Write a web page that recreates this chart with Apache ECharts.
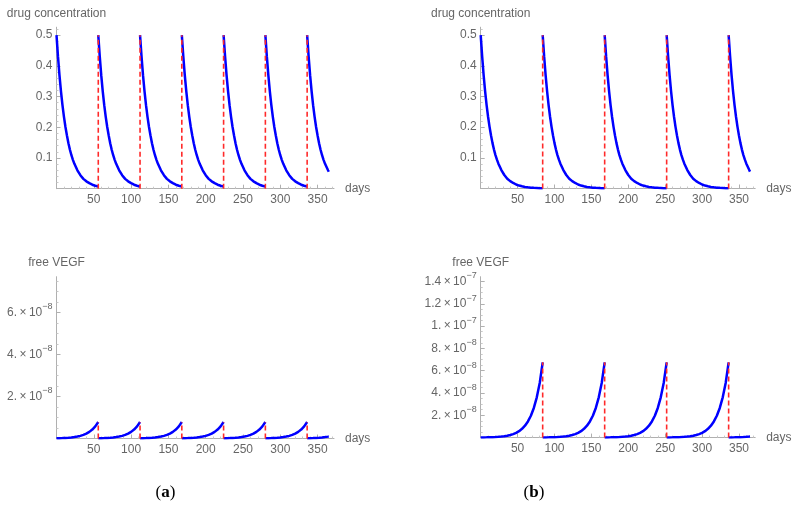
<!DOCTYPE html>
<html><head><meta charset="utf-8">
<script src="https://cdn.jsdelivr.net/npm/echarts@6/dist/echarts.min.js"></script>
<style>html,body{margin:0;padding:0;background:#fff}#c{width:794px;height:510px}</style>
</head><body><div id="c"></div>
<script>
// ---- data ----
// one dosing cycle: days after an injection
const profileDays = [0,2,4,6,8,10,12,14,16,18,20,22,24,28,32,36,40,44,48,52,56,60,64,68,72,76,80,84];
// drug concentration after an injection
const drugProfile = [0.5,0.430,0.369,0.317,0.272,0.234,0.201,0.173,0.148,0.127,0.109,0.094,0.081,0.060,0.044,0.032,0.024,0.018,0.013,0.0096,0.0071,0.0052,0.0039,0.0028,0.0021,0.0016,0.0011,0.0008];
// free VEGF after an injection
const vegfProfile = [1.10e-10,1.28e-10,1.50e-10,1.74e-10,2.03e-10,2.36e-10,2.75e-10,3.20e-10,3.73e-10,4.34e-10,5.05e-10,5.88e-10,6.85e-10,9.3e-10,1.26e-9,1.71e-9,2.32e-9,3.15e-9,4.27e-9,5.79e-9,7.86e-9,1.07e-8,1.45e-8,1.96e-8,2.66e-8,3.61e-8,4.90e-8,6.75e-8];
// injection days
const dosesA = [0,56,112,168,224,280,336];
const dosesB = [0,84,168,252,336];
const endDay = 365;
const endDrug = 0.055;
const endVegf = 1.0e-9;
// tick labels
const xTicks = [50,100,150,200,250,300,350];
const drugTicks = [0.1,0.2,0.3,0.4,0.5];
const drugTickLabels = ['0.1','0.2','0.3','0.4','0.5'];
const vegfTicksA = [2e-8,4e-8,6e-8];
const vegfMantA = ['2.','4.','6.'];
const vegfExpA = ['\u22128','\u22128','\u22128'];
const vegfTicksB = [2e-8,4e-8,6e-8,8e-8,1e-7,1.2e-7,1.4e-7];
const vegfMantB = ['2.','4.','6.','8.','1.','1.2','1.4'];
const vegfExpB = ['\u22128','\u22128','\u22128','\u22128','\u22127','\u22127','\u22127'];

// ---- chart ----
const fam = 'Liberation Sans, Arial, sans-serif';
const axisCol = '#b0b0b0';
const txtCol = '#666';

function cycles(doses, profile, endVal){
  const out = [];
  doses.forEach((d,i)=>{
    const next = i < doses.length-1 ? doses[i+1] : endDay;
    const pts = [];
    profileDays.forEach((t,j)=>{ if (t <= next - d) pts.push([d+t, profile[j]]); });
    if (pts[pts.length-1][0] < next) pts.push([next, endVal]);
    out.push(pts);
  });
  return out;
}
function jumps(doses, profile, top){
  const out = [];
  for (let i=1;i<doses.length;i++){
    const gap = doses[i]-doses[i-1];
    const j = profileDays.indexOf(gap);
    out.push(top ? [[doses[i], 0],[doses[i], profile[0]]] : [[doses[i], 0],[doses[i], profile[j]]]);
  }
  return out;
}

function mkX(gi){
  return {type:'value', gridIndex:gi, min:0, max:372, interval:50,
    name:'days', nameLocation:'end', nameGap:11,
    nameTextStyle:{color:txtCol, fontSize:12, fontFamily:fam, verticalAlign:'middle'},
    axisLine:{onZero:true, lineStyle:{color:axisCol, width:1}},
    axisTick:{show:true, inside:true, length:4, customValues:xTicks, lineStyle:{color:axisCol}},
    minorTick:{show:true, splitNumber:5, length:2, lineStyle:{color:'#c8c8c8'}},
    axisLabel:{customValues:xTicks, color:txtCol, fontSize:12, fontFamily:fam, margin:5},
    splitLine:{show:false}, minorSplitLine:{show:false}};
}
function mkY(gi, max, interval, split, ticks, fmt, name, rich){
  return {type:'value', gridIndex:gi, min:0, max:max, interval:interval,
    name:name, nameLocation:'end', nameGap:8,
    nameTextStyle:{color:txtCol, fontSize:12, fontFamily:fam, align:'center'},
    axisLine:{onZero:true, lineStyle:{color:axisCol, width:1}},
    axisTick:{show:true, inside:true, length:4, customValues:ticks, lineStyle:{color:axisCol}},
    minorTick:{show:true, splitNumber:split, length:2, lineStyle:{color:'#c8c8c8'}},
    axisLabel:{customValues:ticks, formatter:fmt, color:txtCol, fontSize:12, fontFamily:fam, margin:4, rich:rich},
    splitLine:{show:false}, minorSplitLine:{show:false}};
}
const sciRich = {m:{color:txtCol, fontSize:12, fontFamily:fam},
                 e:{color:txtCol, fontSize:9, fontFamily:fam, padding:[0,0,11,0]}};
function sciFmt(ticks, mant, exps){
  return function(v){
    for (let i=0;i<ticks.length;i++){
      if (Math.abs(v-ticks[i]) < ticks[i]*1e-6) return '{m|'+mant[i]+'\u2009\u00d7\u200910}{e|'+exps[i]+'}';
    }
    return '';
  };
}
function drugFmt(v){
  for (let i=0;i<drugTicks.length;i++){ if (Math.abs(v-drugTicks[i])<1e-9) return drugTickLabels[i]; }
  return '';
}

const series = [];
function addPanel(gi, doses, profile, endVal, top){
  cycles(doses, profile, endVal).forEach(pts=>{
    series.push({type:'line', xAxisIndex:gi, yAxisIndex:gi, data:pts, showSymbol:false, symbol:'none',
      lineStyle:{color:'#0000ff', width:2.5}, z:2, animation:false});
  });
  jumps(doses, profile, top).forEach(pts=>{
    series.push({type:'line', xAxisIndex:gi, yAxisIndex:gi, data:pts, showSymbol:false, symbol:'none',
      lineStyle:{color:'#ff2a2a', width:1.6, type:[5,3]}, z:3, animation:false});
  });
}
addPanel(0, dosesA, drugProfile, endDrug, true);
addPanel(1, dosesB, drugProfile, endDrug, true);
addPanel(2, dosesA, vegfProfile, endVegf, false);
addPanel(3, dosesB, vegfProfile, endVegf, false);

const option = {
  backgroundColor:'#fff',
  animation:false,
  grid:[
    {left:56.5, top:27.2, width:277.5, height:161.5},
    {left:480.7, top:27.2, width:274.5, height:161.3},
    {left:56.5, top:276.7, width:277.5, height:161.8},
    {left:480.7, top:276.7, width:274.5, height:160.9}
  ],
  xAxis:[mkX(0), mkX(1), mkX(2), mkX(3)],
  yAxis:[
    mkY(0, 0.526, 0.1, 5, drugTicks, drugFmt, 'drug concentration'),
    mkY(1, 0.526, 0.1, 5, drugTicks, drugFmt, 'drug concentration'),
    mkY(2, 7.7e-8, 2e-8, 4, vegfTicksA, sciFmt(vegfTicksA, vegfMantA, vegfExpA), 'free VEGF', sciRich),
    mkY(3, 1.443e-7, 2e-8, 4, vegfTicksB, sciFmt(vegfTicksB, vegfMantB, vegfExpB), 'free VEGF', sciRich)
  ],
  series:series,
  graphic:[
    {type:'text', style:{x:165.5, y:493, align:'center', verticalAlign:'middle',
      text:'{p|(}{b|a}{p|)}', rich:{p:{fontSize:17, fontFamily:'Liberation Serif, serif', fill:'#000'}, b:{fontSize:17, fontWeight:'bold', fontFamily:'Liberation Serif, serif', fill:'#000'}}}},
    {type:'text', style:{x:534, y:493, align:'center', verticalAlign:'middle',
      text:'{p|(}{b|b}{p|)}', rich:{p:{fontSize:17, fontFamily:'Liberation Serif, serif', fill:'#000'}, b:{fontSize:17, fontWeight:'bold', fontFamily:'Liberation Serif, serif', fill:'#000'}}}}
  ]
};
const chart = echarts.init(document.getElementById('c'), null, {renderer:'canvas'});
chart.setOption(option);
</script></body></html>
